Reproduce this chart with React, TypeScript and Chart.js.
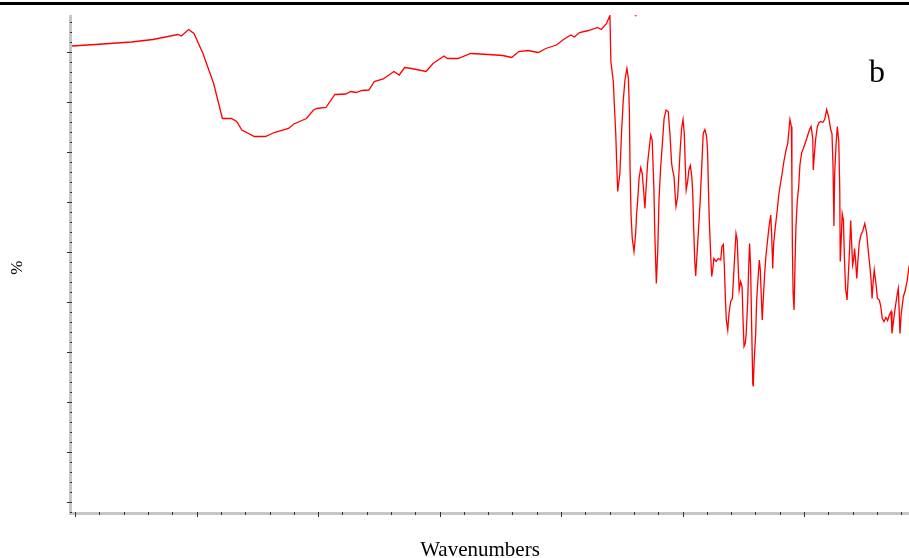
import React, { useEffect, useRef } from 'react';
import { Chart, registerables } from 'chart.js';

Chart.register(...registerables);

// ---- data (wavenumber, cm^-1 ; transmittance-like %) ----
const wavenumbers: number[] = [
  4015, 3918, 3771, 3682, 3579, 3565, 3535, 3513, 3476, 3432,
  3396, 3359, 3337, 3316, 3264, 3219, 3183, 3124, 3102, 3050,
  3021, 3007, 2970, 2933, 2889, 2867, 2845, 2822, 2793, 2771,
  2734, 2690, 2668, 2646, 2617, 2558, 2529, 2484, 2470, 2426,
  2374, 2301, 2242, 2205, 2176, 2139, 2095, 2065, 2021, 1992,
  1962, 1948, 1926, 1889, 1852, 1837, 1816, 1801, 1797, 1787,
  1783, 1777, 1773, 1769, 1764, 1760, 1753, 1746, 1739, 1731,
  1725, 1721, 1718, 1714, 1709, 1702, 1695, 1691, 1687, 1681,
  1674, 1668, 1662, 1657, 1653, 1646, 1640, 1633, 1627, 1620,
  1616, 1610, 1604, 1599, 1592, 1584, 1578, 1570, 1561, 1554,
  1547, 1543, 1537, 1533, 1529, 1522, 1517, 1511, 1506, 1500,
  1495, 1491, 1487, 1481, 1476, 1470, 1464, 1460, 1456, 1452,
  1448, 1443, 1434, 1430, 1423, 1417, 1410, 1403, 1399, 1396,
  1392, 1386, 1382, 1378, 1373, 1364, 1355, 1345, 1340, 1334,
  1330, 1326, 1322, 1316, 1311, 1304, 1297, 1293, 1288, 1282,
  1277, 1273, 1269, 1263, 1257, 1253, 1249, 1244, 1240, 1234,
  1230, 1226, 1222, 1217, 1213, 1211, 1207, 1201, 1197, 1190,
  1186, 1182, 1178, 1174, 1170, 1164, 1159, 1152, 1146, 1139,
  1135, 1131, 1127, 1120, 1113, 1106, 1100, 1093, 1085, 1076,
  1069, 1064, 1060, 1054, 1052, 1050, 1047, 1043, 1039, 1035,
  1030, 1024, 1019, 1012, 1005, 993, 980, 973, 966, 964,
  960, 954, 947, 940, 933, 925, 917, 909, 901, 892,
  887, 883, 879, 876, 870, 865, 859, 855, 853, 849,
  845, 840, 836, 831, 825, 820, 814, 810, 806, 802,
  798, 794, 790, 785, 780, 775, 768, 761, 752, 744,
  738, 731, 726, 722, 718, 713, 706, 700, 692, 686,
  680, 673, 665, 658, 651, 644, 640, 633, 626, 618,
  614, 610, 607, 602, 593, 585, 577, 571, 566,
];

const transmittance: number[] = [
  91.2, 91.5, 92.0, 92.5, 93.5, 93.2, 94.5, 93.7, 89.7, 83.7,
  76.7, 76.7, 76.1, 74.4, 73.1, 73.1, 73.9, 74.7, 75.6, 76.7,
  78.4, 78.7, 78.9, 81.5, 81.6, 82.1, 81.9, 82.3, 82.4, 84.1,
  84.6, 86.1, 85.4, 86.9, 86.7, 86.1, 87.7, 89.2, 88.7, 88.7,
  89.7, 89.5, 89.3, 88.9, 90.1, 90.3, 89.9, 90.7, 91.4, 92.5,
  93.4, 93.0, 93.9, 94.3, 94.9, 94.5, 95.6, 97.3, 88.1, 84.1,
  79.7, 73.7, 67.7, 62.1, 64.1, 65.7, 74.1, 80.4, 84.4, 86.7,
  84.7, 78.4, 66.4, 57.4, 52.7, 50.1, 53.7, 57.7, 60.1, 64.7,
  66.9, 65.7, 62.1, 58.7, 62.1, 67.7, 70.4, 73.4, 72.4, 62.7,
  53.4, 43.7, 50.4, 60.4, 67.1, 72.4, 76.7, 78.4, 78.1, 73.7,
  67.7, 66.4, 65.1, 61.7, 59.1, 61.1, 65.7, 71.1, 74.7, 76.5,
  73.7, 67.7, 62.4, 64.1, 66.4, 67.3, 65.1, 61.7, 54.4, 48.4,
  45.2, 49.1, 56.4, 59.8, 67.1, 73.7, 74.5, 73.1, 70.1, 63.7,
  56.4, 49.1, 45.1, 46.4, 48.7, 48.1, 48.7, 48.4, 51.1, 51.5,
  47.1, 41.1, 36.4, 34.4, 37.7, 40.1, 40.7, 44.1, 48.7, 53.7,
  52.4, 47.1, 42.4, 44.1, 43.1, 36.4, 31.1, 31.7, 33.7, 40.1,
  46.7, 51.7, 47.1, 33.7, 23.7, 23.1, 28.4, 33.7, 40.4, 45.7,
  48.4, 46.4, 41.1, 36.4, 40.4, 45.7, 49.1, 52.4, 55.1, 57.4,
  53.1, 46.7, 51.7, 55.1, 58.1, 61.4, 63.4, 65.4, 68.1, 70.4,
  71.7, 74.4, 76.5, 75.1, 64.4, 51.1, 41.7, 38.4, 48.1, 55.4,
  60.1, 63.1, 67.4, 69.8, 70.7, 72.4, 74.4, 75.1, 72.7, 66.4,
  69.1, 72.7, 75.1, 75.9, 76.1, 75.9, 76.5, 78.5, 77.1, 74.4,
  73.7, 67.7, 55.2, 65.7, 71.7, 75.1, 72.1, 62.4, 48.1, 52.4,
  57.7, 56.4, 49.1, 42.7, 40.4, 45.1, 51.1, 56.3, 51.7, 47.4,
  48.4, 50.7, 48.4, 44.7, 48.4, 51.7, 53.4, 54.1, 55.7, 53.7,
  50.4, 47.1, 44.4, 40.7, 43.7, 46.4, 43.7, 40.7, 40.4, 39.1,
  36.7, 36.1, 36.9, 36.3, 37.4, 38.1, 33.7, 36.5, 39.1, 41.7,
  42.7, 37.7, 33.7, 37.7, 41.1, 42.4, 44.4, 46.7, 48.0,
];

// a stray red speck visible in the reference
const strayWavenumbers: number[] = [1695];
const strayValues: number[] = [97.3];

// axis ranges and ticks (no tick labels are shown)
const xRange: number[] = [570, 4015];
const yRange: number[] = [-2, 97.4];
const xSteps: number[] = [100, 500]; // minor, major
const ySteps: number[] = [2, 10]; // minor, major

const xTitle = 'Wavenumbers';
const yTitle = '%';
const panelLabel = 'b';

const AXIS_GREY = '#c6c6c6';
const TICK_COLOR = '#333333';

const axisLinePlugin = {
  id: 'axisLines',
  beforeDraw(chart: any) {
    const { ctx, chartArea: a } = chart;
    ctx.save();
    ctx.fillStyle = AXIS_GREY;
    ctx.fillRect(a.left - 3, a.top, 3, a.bottom + 3 - a.top);
    ctx.fillRect(a.left - 3, a.bottom, a.right - a.left + 3, 3);
    ctx.restore();
  },
};

const panelLabelPlugin = {
  id: 'panelLabel',
  afterDraw(chart: any) {
    const { ctx, chartArea: a } = chart;
    ctx.save();
    ctx.fillStyle = '#000';
    ctx.font = '32px "Liberation Serif", "Times New Roman", serif';
    ctx.textAlign = 'left';
    ctx.textBaseline = 'alphabetic';
    ctx.fillText(panelLabel, a.right - 40, a.top + 67);
    ctx.restore();
  },
};

export default function App() {
  const canvasRef = useRef<HTMLCanvasElement | null>(null);

  useEffect(() => {
    const canvas = canvasRef.current;
    if (!canvas) return;

    const spectrum = wavenumbers.map((w, i) => ({ x: w, y: transmittance[i] }));
    const stray = strayWavenumbers.map((w, i) => ({ x: w, y: strayValues[i] }));

    const isMajor = (value: number, major: number) =>
      Math.abs(value / major - Math.round(value / major)) < 1e-6;

    const chart = new Chart(canvas, {
      type: 'line',
      data: {
        datasets: [
          {
            data: spectrum,
            borderColor: '#ff0000',
            borderWidth: 1.3,
            pointRadius: 0,
            tension: 0,
            fill: false,
          },
          {
            type: 'scatter',
            data: stray,
            pointRadius: 1,
            pointBorderWidth: 0,
            backgroundColor: '#ff3030',
            borderColor: '#ff3030',
          } as any,
        ],
      },
      options: {
        animation: false,
        responsive: false,
        devicePixelRatio: 1,
        layout: { autoPadding: false, padding: { top: 15, right: 0, bottom: 0, left: 0 } },
        plugins: {
          legend: { display: false },
          tooltip: { enabled: false },
        },
        scales: {
          x: {
            type: 'linear',
            position: 'bottom',
            reverse: true,
            min: xRange[0],
            max: xRange[1],
            border: { display: false },
            grid: {
              display: true,
              drawOnChartArea: false,
              drawTicks: true,
              tickLength: 5,
              tickWidth: 1,
              tickColor: TICK_COLOR,
              tickBorderDash: (ctx: any) =>
                ctx.tick && isMajor(ctx.tick.value, xSteps[1]) ? [] : [3, 50],
            } as any,
            ticks: {
              display: false,
              stepSize: xSteps[0],
              includeBounds: false,
              autoSkip: false,
              maxTicksLimit: 1000,
            },
            title: {
              display: true,
              text: xTitle + '    ',
              color: '#000',
              font: { family: '"Liberation Serif", "Times New Roman", serif', size: 21, lineHeight: 1 },
              padding: { top: 0, bottom: -2.5 },
            },
            afterFit: (scale: any) => {
              scale.height = 46;
            },
          },
          y: {
            type: 'linear',
            position: 'left',
            min: yRange[0],
            max: yRange[1],
            border: { display: false },
            grid: {
              display: true,
              drawOnChartArea: false,
              drawTicks: true,
              tickLength: 5,
              tickWidth: 1,
              tickColor: TICK_COLOR,
              tickBorderDash: (ctx: any) =>
                ctx.tick && isMajor(ctx.tick.value, ySteps[1]) ? [] : [0, 3, 2, 50],
            } as any,
            ticks: {
              display: false,
              stepSize: ySteps[0],
              includeBounds: false,
              autoSkip: false,
              maxTicksLimit: 1000,
            },
            title: {
              display: true,
              text: yTitle + '  ',
              color: '#000',
              font: { family: '"Liberation Serif", "Times New Roman", serif', size: 17, lineHeight: 1 },
              padding: { top: 9.5, bottom: 0 },
            },
            afterFit: (scale: any) => {
              scale.width = 72;
            },
          },
        },
      },
      plugins: [axisLinePlugin, panelLabelPlugin],
    });

    return () => {
      chart.destroy();
    };
  }, []);

  return (
    <div
      style={{
        position: 'fixed',
        left: 0,
        top: 0,
        width: 909,
        height: 558,
        overflow: 'hidden',
        background: '#ffffff',
      }}
    >
      <div
        style={{
          position: 'absolute',
          left: 0,
          top: 2,
          width: 909,
          height: 3,
          background: '#000000',
        }}
      />
      <canvas ref={canvasRef} width={909} height={558} style={{ display: 'block' }} />
    </div>
  );
}
